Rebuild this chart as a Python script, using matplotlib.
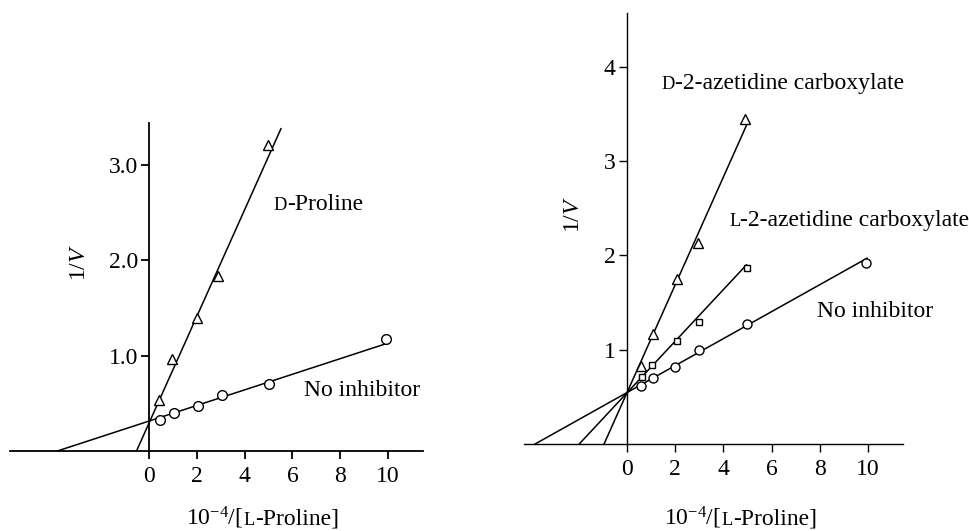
import matplotlib
matplotlib.use("Agg")
import matplotlib.pyplot as plt
from matplotlib.offsetbox import TextArea, HPacker, AnnotationBbox

plt.rcParams["font.family"] = "Liberation Serif"
plt.rcParams["mathtext.fontset"] = "custom"
plt.rcParams["mathtext.rm"] = "Liberation Serif"
plt.rcParams["mathtext.it"] = "Liberation Serif:italic"

FS = 17

# ---- panel A: D-proline ----
a_x = [0.47, 1.04, 2.06, 3.04, 5.01, 9.93]
a_none = [0.33, 0.395, 0.47, 0.59, 0.70, 1.175]
a_dx = [0.43, 0.97, 1.99, 2.90, 4.96]
a_dpro = [0.53, 0.96, 1.40, 1.84, 3.21]
a_fit_none_x = [-3.83, 9.85]
a_fit_none_y = [0.0, 1.12]
a_fit_dpro_x = [-0.52, 5.52]
a_fit_dpro_y = [0.0, 3.38]
a_yticks = [1.0, 2.0, 3.0]
a_yticklabels = ["1.0", "2.0", "3.0"]

# ---- panel B: azetidine carboxylates ----
b_x = [0.59, 1.09, 1.99, 2.98, 4.96, 9.93]
b_none = [0.615, 0.70, 0.82, 1.00, 1.27, 1.92]
b_lx = [0.61, 1.04, 2.09, 3.0, 4.96]
b_laze = [0.71, 0.84, 1.09, 1.29, 1.87]
b_dx = [0.59, 1.09, 2.06, 2.96, 4.89]
b_daze = [0.83, 1.17, 1.75, 2.13, 3.45]
b_fit_none_x = [-3.81, 9.96]
b_fit_none_y = [0.0, 1.97]
b_fit_laze_x = [-1.98, 4.96]
b_fit_laze_y = [0.0, 1.90]
b_fit_daze_x = [-0.95, 5.03]
b_fit_daze_y = [0.0, 3.42]
b_yticks = [1, 2, 3, 4]
b_yticklabels = ["1", "2", "3", "4"]

xticks = [0, 2, 4, 6, 8, 10]

W, H = 969, 531
fig = plt.figure(figsize=(W / 100, H / 100), dpi=100)


def make_axes(px_left, px_right, px_bottom, px_top, xlim, ylim, lw):
    ax = fig.add_axes([px_left / W, 1 - px_bottom / H,
                       (px_right - px_left) / W, (px_bottom - px_top) / H])
    ax.set_xlim(*xlim)
    ax.set_ylim(*ylim)
    ax.spines["top"].set_visible(False)
    ax.spines["right"].set_visible(False)
    ax.spines["left"].set_position(("data", 0))
    for s in ("left", "bottom"):
        ax.spines[s].set_linewidth(lw)
    ax.patch.set_alpha(0)
    ax.set_xticks(xticks)
    ax.tick_params(direction="out", length=6, width=lw, labelsize=FS)
    ax.tick_params(axis="x", pad=5)
    ax.tick_params(axis="y", pad=2)
    return ax


def sc_text(ax, x, y, first, rest, size=FS, ha=0.0, va=0.5):
    """Text with a small-caps first letter (D- / L- prefixes)."""
    parts = [TextArea(first, textprops=dict(size=size * 0.78, family="Liberation Serif")),
             TextArea(rest, textprops=dict(size=size, family="Liberation Serif"))]
    box = HPacker(children=parts, align="baseline", pad=0, sep=0)
    ab = AnnotationBbox(box, (x, y), xycoords="data", box_alignment=(ha, va),
                        frameon=False, annotation_clip=False)
    ax.add_artist(ab)


def xlabel(ax, x, y):
    parts = [TextArea(r"10$^{-4}$/[", textprops=dict(size=FS, family="Liberation Serif")),
             TextArea("L", textprops=dict(size=FS * 0.78, family="Liberation Serif")),
             TextArea("-Proline]", textprops=dict(size=FS, family="Liberation Serif"))]
    box = HPacker(children=parts, align="baseline", pad=0, sep=0)
    ab = AnnotationBbox(box, (x, y), xycoords="data", box_alignment=(0.5, 0.5),
                        frameon=False, annotation_clip=False)
    ax.add_artist(ab)


line_kw = dict(color="black", lw=1.1, clip_on=False)
circ_kw = dict(ls="none", marker="o", mfc="white", mec="black", mew=1.0, clip_on=False, zorder=3)
tri_kw = dict(ls="none", marker="^", mfc="white", mec="black", mew=1.0, clip_on=False, zorder=3)
sq_kw = dict(ls="none", marker="s", mfc="white", mec="black", mew=1.0, clip_on=False, zorder=3)

# left panel
ax1 = make_axes(10, 423, 451, 123, (-5.81, 11.46), (0, 3.44), 1.3)
ax1.set_yticks(a_yticks)
ax1.set_yticklabels(a_yticklabels)
ax1.plot(a_fit_none_x, a_fit_none_y, **line_kw)
ax1.plot(a_fit_dpro_x, a_fit_dpro_y, **line_kw)
ax1.plot(a_x, a_none, ms=7, **circ_kw)
ax1.plot(a_dx, a_dpro, ms=7.5, **tri_kw)
sc_text(ax1, 5.2, 2.59, "D", "-Proline")
ax1.text(6.5, 0.63, "No inhibitor", fontsize=FS, va="center", ha="left")
ax1.text(-2.9, 1.98, "1/$V$", fontsize=FS, rotation=90, ha="center", va="center")
xlabel(ax1, 4.75, -0.70)

# right panel
ax2 = make_axes(524, 903, 444, 13, (-4.27, 11.45), (0, 4.57), 1.0)
ax2.set_yticks(b_yticks)
ax2.set_yticklabels(b_yticklabels)
ax2.plot(b_fit_none_x, b_fit_none_y, **line_kw)
ax2.plot(b_fit_laze_x, b_fit_laze_y, **line_kw)
ax2.plot(b_fit_daze_x, b_fit_daze_y, **line_kw)
ax2.plot(b_x, b_none, ms=6.5, **circ_kw)
ax2.plot(b_lx, b_laze, ms=4.5, **sq_kw)
ax2.plot(b_dx, b_daze, ms=7, **tri_kw)
sc_text(ax2, 1.44, 3.82, "D", "-2-azetidine carboxylate")
sc_text(ax2, 4.24, 2.37, "L", "-2-azetidine carboxylate")
ax2.text(7.9, 1.40, "No inhibitor", fontsize=FS, va="center", ha="left")
ax2.text(-2.23, 2.43, "1/$V$", fontsize=FS, rotation=90, ha="center", va="center")
xlabel(ax2, 4.7, -0.78)

fig.savefig("out.png", dpi=100)
